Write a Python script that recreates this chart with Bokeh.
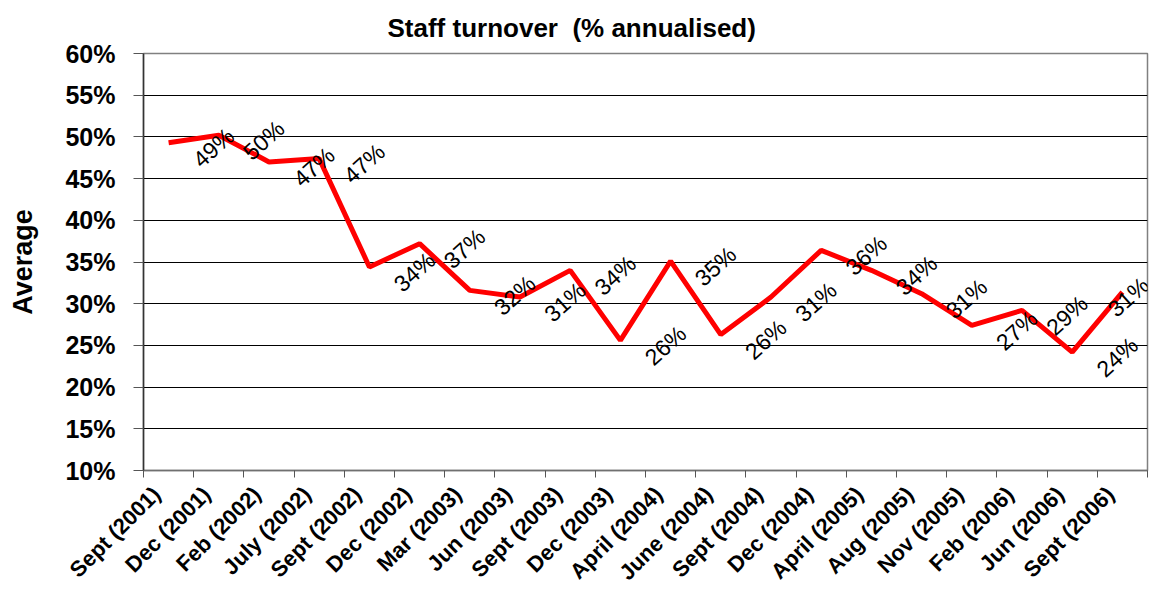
import math
from bokeh.plotting import figure
from bokeh.models import (Range1d, LinearAxis, FixedTicker, PrintfTickFormatter,
                          ColumnDataSource, Grid, LabelSet)
from bokeh.core.properties import value
from bokeh.embed import file_html
from bokeh.resources import INLINE

# ---- data ----
title_text = "Staff turnover \u00a0(% annualised)"
y_label = "Average"
periods = ["Sept (2001)", "Dec (2001)", "Feb (2002)", "July (2002)", "Sept (2002)",
           "Dec (2002)", "Mar (2003)", "Jun (2003)", "Sept (2003)", "Dec (2003)",
           "April (2004)", "June (2004)", "Sept (2004)", "Dec (2004)", "April (2005)",
           "Aug (2005)", "Nov (2005)", "Feb (2006)", "Jun (2006)", "Sept (2006)"]
turnover = [49.3, 50.2, 47.0, 47.4, 34.4, 37.2, 31.6, 30.8, 34.0, 25.6,
            35.1, 26.3, 30.8, 36.4, 34.0, 31.2, 27.4, 29.2, 24.2, 31.4]
y_ticks = [10, 15, 20, 25, 30, 35, 40, 45, 50, 55, 60]

n = len(periods)
centers = [i + 0.5 for i in range(n)]          # category slot centres
label_pos = [i + 0.26 for i in range(n)]       # rotated tick-label anchors (Excel look)
bounds = list(range(n + 1))                    # tick marks between categories
labels = [f"{round(v)}%" for v in turnover]
# Excel-like data label placement: shifted right, last one pulled inside
x_offs = [45] * (n - 1) + [6]

src = ColumnDataSource(dict(x=centers, val=turnover, lbl=labels, xo=x_offs))

FONT = "Liberation Sans"

p = figure(width=1160, height=596,
           x_range=Range1d(0, n), y_range=Range1d(y_ticks[0], y_ticks[-1]),
           x_axis_type=None, y_axis_type=None,
           output_backend="svg", toolbar_location=None,
           min_border_left=143, min_border_right=13, min_border_top=53, min_border_bottom=126)

p.title.text = title_text
p.title.align = "left"
p.title.offset = 244
p.title.standoff = 21
p.title.text_font = FONT
p.title.text_font_size = "26px"
p.title.text_font_style = "bold"
p.title.text_color = "black"

p.outline_line_color = "#808080"
p.outline_line_width = 1.5
p.background_fill_color = "white"
p.border_fill_color = "white"

# y axis
yaxis = LinearAxis(ticker=FixedTicker(ticks=y_ticks),
                   formatter=PrintfTickFormatter(format="%d%%"),
                   axis_label=y_label)
yaxis.axis_line_color = "#333333"
yaxis.axis_line_width = 1.5
yaxis.major_tick_out = 10
yaxis.major_tick_in = 0
yaxis.major_tick_line_color = "#555555"
yaxis.minor_tick_line_color = None
yaxis.major_label_standoff = 18
yaxis.major_label_text_font = FONT
yaxis.major_label_text_font_size = "25px"
yaxis.major_label_text_font_style = "bold"
yaxis.major_label_text_color = "black"
yaxis.axis_label_text_font = FONT
yaxis.axis_label_text_font_size = "27px"
yaxis.axis_label_text_font_style = "bold"
yaxis.axis_label_text_color = "black"
yaxis.axis_label_standoff = 24
p.add_layout(yaxis, "left")

grid = Grid(dimension=1, ticker=yaxis.ticker, grid_line_color="black", grid_line_width=1)
p.add_layout(grid)

# x axis: labels near category centres, tick marks between categories
xaxis = LinearAxis(ticker=FixedTicker(ticks=label_pos, minor_ticks=bounds),
                   major_label_overrides={c: name for c, name in zip(label_pos, periods)})
xaxis.major_tick_line_color = None
xaxis.major_tick_out = 0
xaxis.major_tick_in = 0
xaxis.minor_tick_line_color = "#555555"
xaxis.minor_tick_out = 7
xaxis.minor_tick_in = 0
xaxis.axis_line_color = "#707070"
xaxis.axis_line_width = 1.5
xaxis.major_label_orientation = math.pi / 4
xaxis.major_label_standoff = 13
xaxis.major_label_text_font = FONT
xaxis.major_label_text_font_size = "22px"
xaxis.major_label_text_font_style = "bold"
xaxis.major_label_text_color = "black"
p.add_layout(xaxis, "below")

p.line(x="x", y="val", source=src, line_color="#FF0000", line_width=5)

ls = LabelSet(x="x", y="val", text="lbl", source=src,
              x_offset="xo", y_offset=-5, angle=math.radians(42),
              text_align="center", text_baseline="middle",
              text_font=value(FONT), text_font_size="23px", text_color="black")
p.add_layout(ls)

open("out.html", "w").write(file_html(p, INLINE))
